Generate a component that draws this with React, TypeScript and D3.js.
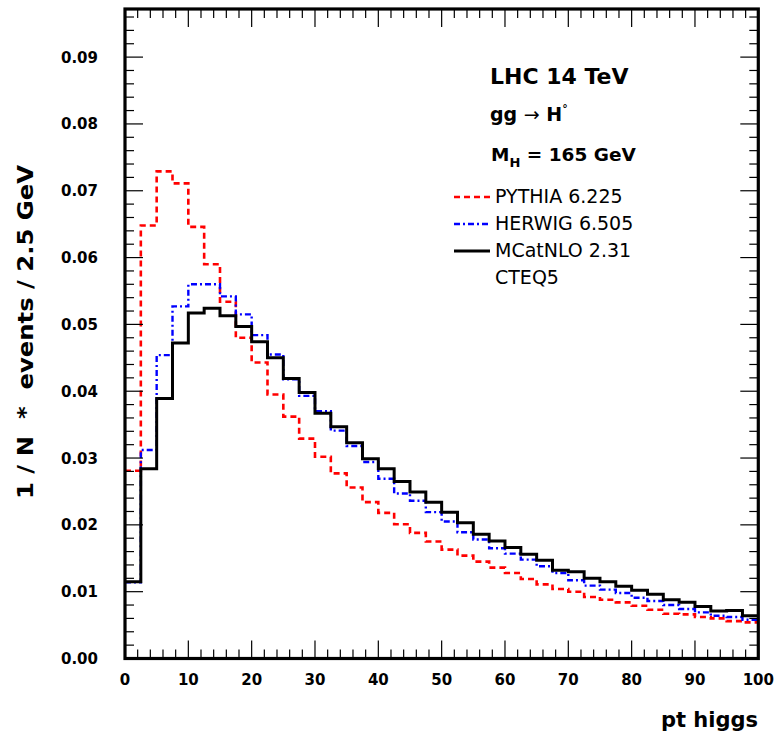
import React from 'react';
import * as d3 from 'd3';

// ---- data (1/N * events per 2.5 GeV bin, pt higgs 0..100) ----
const BIN_WIDTH = 2.5;
const pythia = [
  0.0281, 0.0648, 0.0729, 0.0711, 0.0646, 0.0590, 0.0534, 0.0480, 0.0443, 0.0395,
  0.0362, 0.0329, 0.0302, 0.0277, 0.0256, 0.0234, 0.0218, 0.0201, 0.0188, 0.0175,
  0.0163, 0.0154, 0.0145, 0.0136, 0.0128, 0.0119, 0.0111, 0.0104, 0.0100, 0.0092,
  0.0088, 0.0084, 0.0079, 0.0073, 0.0067, 0.0066, 0.0062, 0.0060, 0.0056, 0.0054,
];
const herwig = [
  0.0114, 0.0312, 0.0454, 0.0527, 0.0560, 0.0560, 0.0542, 0.0515, 0.0484, 0.0455,
  0.0418, 0.0393, 0.0370, 0.0341, 0.0318, 0.0294, 0.0269, 0.0247, 0.0236, 0.0219,
  0.0205, 0.0189, 0.0178, 0.0165, 0.0157, 0.0148, 0.0138, 0.0128, 0.0117, 0.0109,
  0.0103, 0.0098, 0.0091, 0.0086, 0.0080, 0.0074, 0.0069, 0.0064, 0.0062, 0.0058,
];
const mcatnlo = [
  0.0115, 0.0284, 0.0389, 0.0472, 0.0517, 0.0524, 0.0513, 0.0497, 0.0474, 0.0450,
  0.0419, 0.0398, 0.0367, 0.0347, 0.0323, 0.0299, 0.0284, 0.0265, 0.0249, 0.0234,
  0.0219, 0.0203, 0.0186, 0.0176, 0.0166, 0.0156, 0.0147, 0.0132, 0.0130, 0.0120,
  0.0115, 0.0108, 0.0102, 0.0096, 0.0088, 0.0084, 0.0078, 0.0071, 0.0072, 0.0064,
];
const xTickValues = [0, 10, 20, 30, 40, 50, 60, 70, 80, 90, 100];
const xTickLabels = ['0', '10', '20', '30', '40', '50', '60', '70', '80', '90', '100'];
const yTickValues = [0, 0.01, 0.02, 0.03, 0.04, 0.05, 0.06, 0.07, 0.08, 0.09];
const yTickLabels = ['0.00', '0.01', '0.02', '0.03', '0.04', '0.05', '0.06', '0.07', '0.08', '0.09'];
const legendLabels = ['PYTHIA 6.225', 'HERWIG 6.505', 'MCatNLO 2.31', 'CTEQ5'];

const W = 778;
const H = 739;
const X0 = 125, X1 = 758.3, Y0 = 658.5, Y1 = 9;
const FONT = '"DejaVu Sans", sans-serif';

export default function App() {
  const x = d3.scaleLinear().domain([0, 100]).range([X0, X1]);
  const y = d3.scaleLinear().domain([0, 0.0972]).range([Y0, Y1]);

  const stepPath = (vals: number[]) => {
    const pts: [number, number][] = vals.map((v, i) => [i * BIN_WIDTH, v]);
    pts.push([vals.length * BIN_WIDTH, vals[vals.length - 1]]);
    return d3
      .line<[number, number]>()
      .x((d) => x(d[0]))
      .y((d) => y(d[1]))
      .curve(d3.curveStepAfter)(pts) as string;
  };

  const xMinor = d3.range(0, 51).map((i) => i * 2).filter((v) => v % 10 !== 0);
  const yMinor = d3.range(0, 49).map((i) => i * 0.002).filter((_, i) => i % 5 !== 0);

  const MAJ = 18, MIN = 9;
  const tickStyle = { stroke: '#000', strokeWidth: 1.2 };

  const series = [
    { d: pythia, color: '#ff0000', dash: '6,4', w: 2.6 },
    { d: herwig, color: '#0000ff', dash: '6,3,2,3', w: 2.4 },
    { d: mcatnlo, color: '#000000', dash: undefined, w: 3 },
  ];

  return (
    <svg width={W} height={H} style={{ position: 'absolute', left: 0, top: 0, background: '#fff' }}>
      <rect x={0} y={0} width={W} height={H} fill="#fff" />
      <defs>
        <clipPath id="plotclip">
          <rect x={X0} y={Y1} width={X1 - X0} height={Y0 - Y1} />
        </clipPath>
      </defs>

      {/* histograms */}
      <g clipPath="url(#plotclip)" fill="none">
        {series.map((s, i) => (
          <path key={i} d={stepPath(s.d)} stroke={s.color} strokeWidth={s.w} strokeDasharray={s.dash} />
        ))}
      </g>

      {/* ticks */}
      <g>
        {xTickValues.map((v) => (
          <g key={'xm' + v}>
            <line x1={x(v)} x2={x(v)} y1={Y0} y2={Y0 - MAJ} {...tickStyle} />
            <line x1={x(v)} x2={x(v)} y1={Y1} y2={Y1 + MAJ} {...tickStyle} />
          </g>
        ))}
        {xMinor.map((v) => (
          <g key={'xn' + v}>
            <line x1={x(v)} x2={x(v)} y1={Y0} y2={Y0 - MIN} {...tickStyle} />
            <line x1={x(v)} x2={x(v)} y1={Y1} y2={Y1 + MIN} {...tickStyle} />
          </g>
        ))}
        {yTickValues.map((v) => (
          <g key={'ym' + v}>
            <line x1={X0} x2={X0 + MAJ} y1={y(v)} y2={y(v)} {...tickStyle} />
            <line x1={X1} x2={X1 - MAJ} y1={y(v)} y2={y(v)} {...tickStyle} />
          </g>
        ))}
        {yMinor.map((v, i) => (
          <g key={'yn' + i}>
            <line x1={X0} x2={X0 + MIN} y1={y(v)} y2={y(v)} {...tickStyle} />
            <line x1={X1} x2={X1 - MIN} y1={y(v)} y2={y(v)} {...tickStyle} />
          </g>
        ))}
      </g>

      {/* frame */}
      <rect x={X0} y={Y1} width={X1 - X0} height={Y0 - Y1} fill="none" stroke="#000" strokeWidth={3.2} />

      {/* tick labels */}
      <g fontFamily={FONT} fontWeight="bold" fontSize={15} fill="#000">
        {yTickValues.map((v, i) => (
          <text key={'yl' + i} x={98} y={y(v) + 5.5} textAnchor="end">
            {yTickLabels[i]}
          </text>
        ))}
        {xTickValues.map((v, i) => (
          <text key={'xl' + i} x={x(v)} y={685} textAnchor="middle">
            {xTickLabels[i]}
          </text>
        ))}
      </g>

      {/* axis titles */}
      <text x={758} y={727} textAnchor="end" fontFamily={FONT} fontWeight="bold" fontSize={21}>
        pt higgs
      </text>
      <text
        transform="translate(33,332) rotate(-90)"
        textAnchor="middle"
        fontFamily={FONT}
        fontWeight="bold"
        fontSize={22}
        textLength={334}
        lengthAdjust="spacingAndGlyphs"
        style={{ whiteSpace: 'pre' }}
      >
        {'1 / N  *  events / 2.5 GeV'}
      </text>

      {/* annotations */}
      <g fontFamily={FONT} fontWeight="bold" fill="#000">
        <text x={490} y={84} fontSize={22}>LHC 14 TeV</text>
        <text x={490} y={121} fontSize={19}>
          gg <tspan fontWeight="normal">→</tspan> H
          <tspan fontSize={11} dy={-9}>°</tspan>
        </text>
        <text x={491} y={161} fontSize={18.5}>
          M<tspan fontSize={13} dy={6}>H</tspan>
          <tspan dy={-6}> = 165 GeV</tspan>
        </text>
      </g>

      {/* legend */}
      <g>
        {series.map((s, i) => (
          <line key={'ll' + i} x1={454} x2={490} y1={197 + i * 27} y2={197 + i * 27}
            stroke={s.color} strokeWidth={s.w} strokeDasharray={s.dash} />
        ))}
        {legendLabels.map((t, i) => (
          <text key={'lt' + i} x={495} y={203 + i * 27} fontFamily={FONT} fontSize={19} fill="#000">
            {t}
          </text>
        ))}
      </g>
    </svg>
  );
}
